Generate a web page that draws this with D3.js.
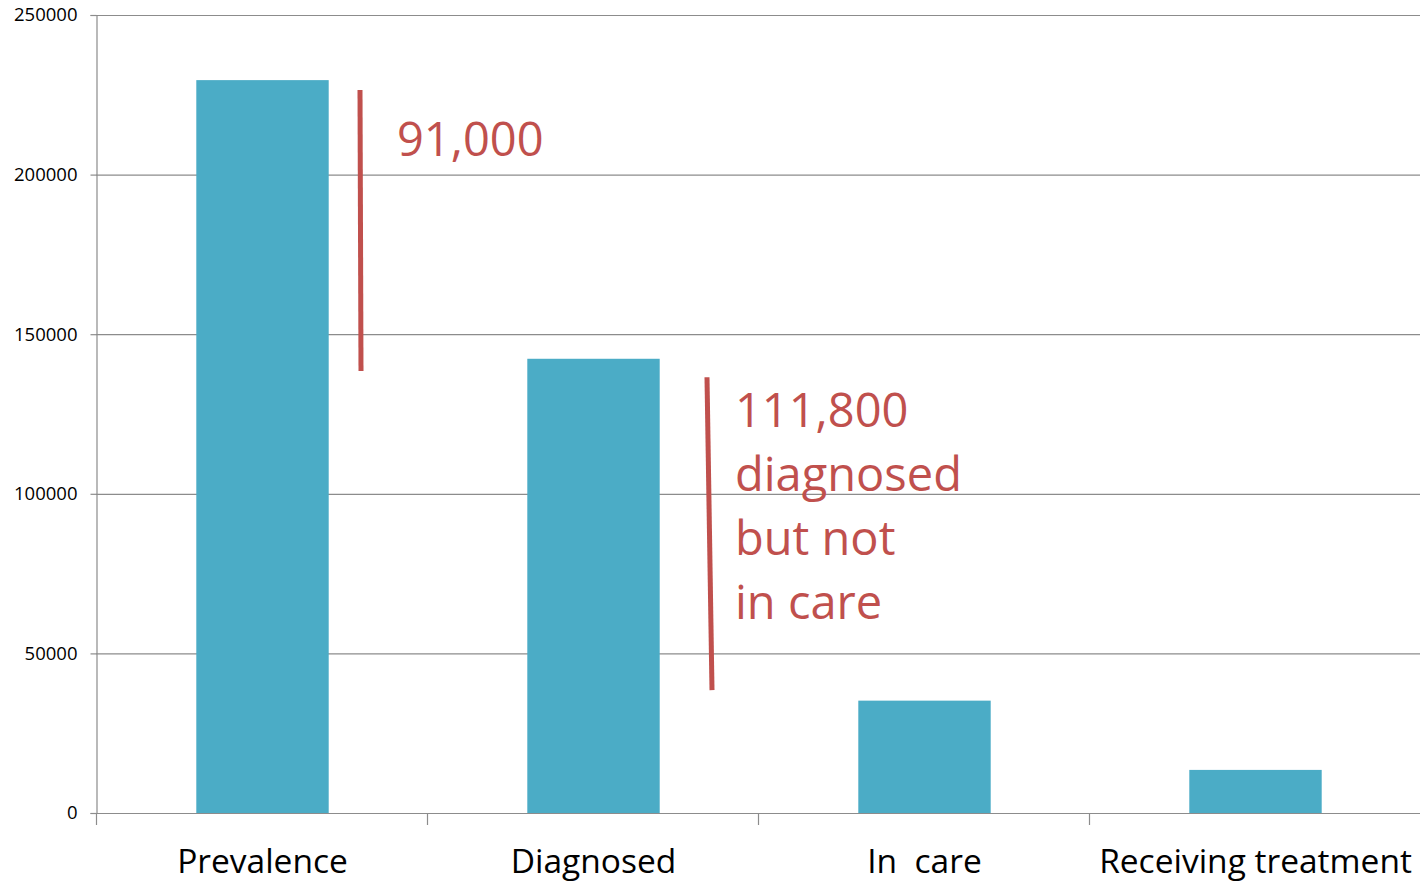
<!DOCTYPE html>
<html><head><meta charset="utf-8">
<script src="https://cdn.jsdelivr.net/npm/d3@7"></script>
<style>body{margin:0;background:#fff}svg{display:block}</style>
</head><body>
<svg id="c" width="1420" height="882"></svg>
<script>
const categories = ["Prevalence", "Diagnosed", "In  care", "Receiving treatment"];
const values = [229600, 142300, 35200, 13500];
const yTicks = [0, 50000, 100000, 150000, 200000, 250000];
const gapLabels = [["91,000"], ["111,800", "diagnosed", "but not", "in care"]];
// annotation bracket spans in data units [top, bottom]
const gapSpans = [[226500, 138500], [136500, 38500]];

const svg = d3.select("#c");
const W = 1420, H = 882;
const m = {l: 96, r: 0, t: 15, b: 69};
const x = d3.scaleBand().domain(categories).range([m.l + 1, W + 1]).paddingInner(0.6).paddingOuter(0.3);
const y = d3.scaleLinear().domain([0, 250000]).range([H - m.b, m.t]);
const font = "'Open Sans', sans-serif";
const red = "#C0504D";

// gridlines
svg.append("g").selectAll("line").data(yTicks).join("line")
  .attr("x1", m.l).attr("x2", W).attr("y1", d => y(d) + 0.5).attr("y2", d => y(d) + 0.5)
  .attr("stroke", "#8c8c8c").attr("stroke-width", 1.2);

// y axis
const ya = svg.append("g").attr("transform", `translate(${m.l + 0.5},0)`)
  .call(d3.axisLeft(y).tickValues(yTicks).tickFormat(d3.format("d")).tickSize(6).tickPadding(13));
ya.select(".domain").attr("stroke", "#8c8c8c").attr("stroke-width", 1.2);
ya.selectAll(".tick line").attr("stroke", "#8c8c8c").attr("stroke-width", 1.2);
ya.selectAll("text").attr("font-family", font).attr("font-size", 18.5).attr("fill", "#000");

// x axis ticks at category boundaries
const bx = d3.range(categories.length).map(i => m.l + i * (W - m.l) / categories.length);
svg.append("g").selectAll("line").data(bx).join("line")
  .attr("x1", d => d + 0.5).attr("x2", d => d + 0.5).attr("y1", y(0)).attr("y2", y(0) + 12)
  .attr("stroke", "#8c8c8c").attr("stroke-width", 1.2);

// bars
svg.append("g").selectAll("rect").data(values).join("rect")
  .attr("x", (d, i) => x(categories[i])).attr("width", x.bandwidth())
  .attr("y", d => y(d)).attr("height", d => y(0) - y(d))
  .attr("fill", "#4BACC6");

// category labels
svg.append("g").selectAll("text").data(categories).join("text")
  .attr("x", d => x(d) + x.bandwidth() / 2).attr("y", 873)
  .attr("text-anchor", "middle").attr("font-family", font).attr("font-size", 33.5)
  .attr("fill", "#000").style("white-space", "pre").text(d => d);

// annotation lines
const lineX = [[360, 361], [707, 712]];
svg.append("g").selectAll("line").data(gapSpans).join("line")
  .attr("x1", (d, i) => lineX[i][0]).attr("x2", (d, i) => lineX[i][1])
  .attr("y1", d => y(d[0])).attr("y2", d => y(d[1]))
  .attr("stroke", red).attr("stroke-width", 5);

// annotation text
const textPos = [[397, 156], [735, 427]];
gapLabels.forEach((lines, i) => {
  svg.append("g").selectAll("text").data(lines).join("text")
    .attr("x", textPos[i][0]).attr("y", (d, j) => textPos[i][1] + j * 64)
    .attr("font-family", font).attr("font-size", 47).attr("fill", red).text(d => d);
});
</script>
</body></html>
